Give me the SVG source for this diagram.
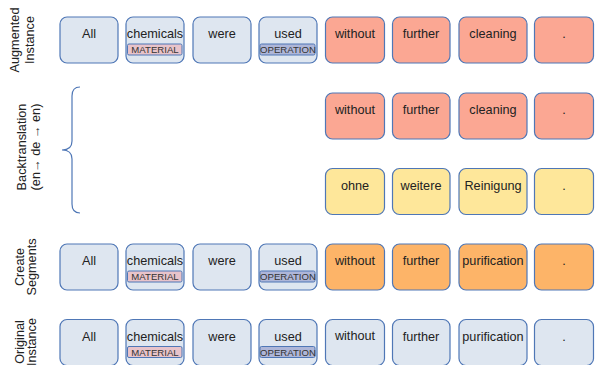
<svg xmlns="http://www.w3.org/2000/svg" width="595" height="365" viewBox="0 0 595 365">
<style>
.b{stroke:#4f77b6;stroke-width:1.2}
.n{fill:#dee6f0}
.r{fill:#fba793}
.y{fill:#fee79a}
.o{fill:#fdb468}
.t{font-family:"Liberation Sans",Arial,sans-serif;font-size:12.7px;fill:#222;text-anchor:middle}
.tg{font-family:"Liberation Sans",Arial,sans-serif;font-size:9.6px;fill:#333;text-anchor:middle}
.mat{fill:#e8c3ca;stroke:#4f77b6;stroke-width:1}
.op{fill:#aeb6d8;stroke:#4f77b6;stroke-width:1}
.lb{font-family:"Liberation Sans",Arial,sans-serif;font-size:12.7px;fill:#222;text-anchor:middle}
</style>
<rect width="595" height="365" fill="#fff"/>
<g id="labels">
<text class="lb" transform="translate(0,40) rotate(-90)"><tspan x="0" y="18.5">Augmented</tspan><tspan x="0" y="34">Instance</tspan></text>
<text class="lb" transform="translate(0,147) rotate(-90)"><tspan x="0" y="26">Backtranslation</tspan><tspan x="0" y="40">(en→ de → en)</tspan></text>
<text class="lb" transform="translate(0,267) rotate(-90)"><tspan x="0" y="23.5">Create</tspan><tspan x="0" y="36">Segments</tspan></text>
<text class="lb" transform="translate(0,342) rotate(-90)"><tspan x="0" y="23.5">Original</tspan><tspan x="0" y="36">Instance</tspan></text>
</g>
<g id="connectors">
<path d="M80,87 C74,87 72,90 72,96 L72,141 C72,147 68,150 62,150 C68,150 72,153 72,159 L72,204 C72,210 74,213 80,213" fill="none" stroke="#4f77b6" stroke-width="1.2"/>
</g>
<g id="aug">
<g id="aug-1"><rect class="b n" x="60" y="17" width="58" height="46" rx="7"/><text class="t" x="89" y="38">All</text></g>
<g id="aug-2"><rect class="b n" x="126" y="17" width="58" height="46" rx="7"/><text class="t" x="155" y="38">chemicals</text><rect class="mat" x="127.5" y="44" width="54.5" height="11" rx="1.5"/><text class="tg" x="155" y="53.3">MATERIAL</text></g>
<g id="aug-3"><rect class="b n" x="193" y="17" width="58" height="46" rx="7"/><text class="t" x="222" y="38">were</text></g>
<g id="aug-4"><rect class="b n" x="259" y="17" width="58" height="46" rx="7"/><text class="t" x="288" y="38">used</text><rect class="op" x="260" y="44" width="55" height="11" rx="1.5"/><text class="tg" x="288" y="53.3">OPERATION</text></g>
<g id="aug-5"><rect class="b r" x="325.5" y="17" width="59" height="46" rx="7"/><text class="t" x="355" y="38">without</text></g>
<g id="aug-6"><rect class="b r" x="392.5" y="17" width="57.5" height="46" rx="7"/><text class="t" x="421" y="38">further</text></g>
<g id="aug-7"><rect class="b r" x="459" y="17" width="68" height="46" rx="7"/><text class="t" x="493" y="38">cleaning</text></g>
<g id="aug-8"><rect class="b r" x="534.5" y="17" width="59" height="46" rx="7"/><text class="t" x="564" y="38">.</text></g>
</g>
<g id="bt-en">
<g id="bten-1"><rect class="b r" x="325.5" y="93" width="59" height="46" rx="7"/><text class="t" x="355" y="114">without</text></g>
<g id="bten-2"><rect class="b r" x="392.5" y="93" width="57.5" height="46" rx="7"/><text class="t" x="421" y="114">further</text></g>
<g id="bten-3"><rect class="b r" x="459" y="93" width="68" height="46" rx="7"/><text class="t" x="493" y="114">cleaning</text></g>
<g id="bten-4"><rect class="b r" x="534.5" y="93" width="59" height="46" rx="7"/><text class="t" x="564" y="114">.</text></g>
</g>
<g id="bt-de">
<g id="btde-1"><rect class="b y" x="325.5" y="168.5" width="59" height="46" rx="7"/><text class="t" x="355" y="189.5">ohne</text></g>
<g id="btde-2"><rect class="b y" x="392.5" y="168.5" width="57.5" height="46" rx="7"/><text class="t" x="421" y="189.5">weitere</text></g>
<g id="btde-3"><rect class="b y" x="459" y="168.5" width="68" height="46" rx="7"/><text class="t" x="493" y="189.5">Reinigung</text></g>
<g id="btde-4"><rect class="b y" x="534.5" y="168.5" width="59" height="46" rx="7"/><text class="t" x="564" y="189.5">.</text></g>
</g>
<g id="seg">
<g id="seg-1"><rect class="b n" x="60" y="244" width="58" height="46" rx="7"/><text class="t" x="89" y="265">All</text></g>
<g id="seg-2"><rect class="b n" x="126" y="244" width="58" height="46" rx="7"/><text class="t" x="155" y="265">chemicals</text><rect class="mat" x="127.5" y="271" width="54.5" height="11" rx="1.5"/><text class="tg" x="155" y="280.3">MATERIAL</text></g>
<g id="seg-3"><rect class="b n" x="193" y="244" width="58" height="46" rx="7"/><text class="t" x="222" y="265">were</text></g>
<g id="seg-4"><rect class="b n" x="259" y="244" width="58" height="46" rx="7"/><text class="t" x="288" y="265">used</text><rect class="op" x="260" y="271" width="55" height="11" rx="1.5"/><text class="tg" x="288" y="280.3">OPERATION</text></g>
<g id="seg-5"><rect class="b o" x="325.5" y="244" width="59" height="46" rx="7"/><text class="t" x="355" y="265">without</text></g>
<g id="seg-6"><rect class="b o" x="392.5" y="244" width="57.5" height="46" rx="7"/><text class="t" x="421" y="265">further</text></g>
<g id="seg-7"><rect class="b o" x="459" y="244" width="68" height="46" rx="7"/><text class="t" x="493" y="265">purification</text></g>
<g id="seg-8"><rect class="b o" x="534.5" y="244" width="59" height="46" rx="7"/><text class="t" x="564" y="265">.</text></g>
</g>
<g id="orig">
<g id="orig-1"><rect class="b n" x="60" y="319.5" width="58" height="46" rx="7"/><text class="t" x="89" y="340.5">All</text></g>
<g id="orig-2"><rect class="b n" x="126" y="319.5" width="58" height="46" rx="7"/><text class="t" x="155" y="340.5">chemicals</text><rect class="mat" x="127.5" y="346.5" width="54.5" height="11" rx="1.5"/><text class="tg" x="155" y="355.8">MATERIAL</text></g>
<g id="orig-3"><rect class="b n" x="193" y="319.5" width="58" height="46" rx="7"/><text class="t" x="222" y="340.5">were</text></g>
<g id="orig-4"><rect class="b n" x="259" y="319.5" width="58" height="46" rx="7"/><text class="t" x="288" y="340.5">used</text><rect class="op" x="260" y="346.5" width="55" height="11" rx="1.5"/><text class="tg" x="288" y="355.8">OPERATION</text></g>
<g id="orig-5"><rect class="b n" x="325.5" y="319.5" width="59" height="46" rx="7"/><text class="t" x="355" y="340">without</text></g>
<g id="orig-6"><rect class="b n" x="392.5" y="319.5" width="57.5" height="46" rx="7"/><text class="t" x="421" y="341">further</text></g>
<g id="orig-7"><rect class="b n" x="459" y="319.5" width="68" height="46" rx="7"/><text class="t" x="493" y="341">purification</text></g>
<g id="orig-8"><rect class="b n" x="534.5" y="319.5" width="59" height="46" rx="7"/><text class="t" x="564" y="341">.</text></g>
</g>
</svg>
